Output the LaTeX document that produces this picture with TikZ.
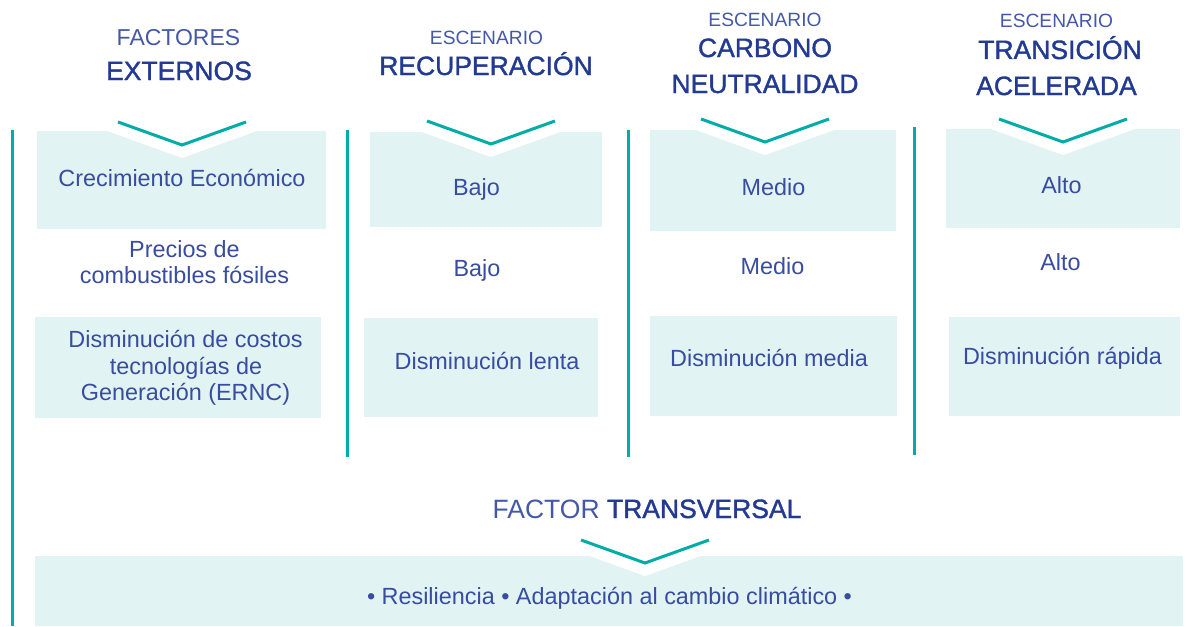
\documentclass[tikz,border=0pt]{standalone}
\usepackage{fontspec}
\setmainfont{Liberation Sans}
\newfontfamily\medfont{Liberation Sans}[FakeBold=1.4]
\definecolor{tealline}{RGB}{0,172,167}
\definecolor{boxbg}{RGB}{225,244,243}
\definecolor{lightblue}{RGB}{68,88,170}
\definecolor{darkblue}{RGB}{34,58,145}
\definecolor{bodyblue}{RGB}{56,76,160}
\begin{document}
\begin{tikzpicture}[
	x=1pt, y=-1pt,
	cell/.style={fill=boxbg},
	notch/.style={fill=white},
	chev/.style={draw=tealline, line width=3pt},
	sep/.style={draw=tealline, line width=3pt},
	body/.style={anchor=base, inner sep=0pt, text=bodyblue,
		font=\fontsize{23.4}{27}\selectfont},
	thin/.style={anchor=base, inner sep=0pt, text=lightblue,
		font=\fontsize{23}{27}\selectfont},
	scen/.style={anchor=base, inner sep=0pt, text=lightblue,
		font=\fontsize{19.2}{22}\selectfont},
	thick/.style={anchor=base, inner sep=0pt, text=darkblue,
		font=\medfont\fontsize{26.5}{30}\selectfont}
]
	\useasboundingbox (0, 0) rectangle (1201, 626);
	% Boxes
	\fill[cell] (37, 131) rectangle (326, 229);
	\fill[cell] (35, 317) rectangle (321, 418);
	\fill[cell] (370, 132) rectangle (602, 227);
	\fill[cell] (364, 318) rectangle (598, 417);
	\fill[cell] (650, 130) rectangle (896, 231);
	\fill[cell] (650, 316) rectangle (897, 416);
	\fill[cell] (946, 129) rectangle (1180, 228);
	\fill[cell] (949, 317) rectangle (1180, 416);
	\fill[cell] (35, 556) rectangle (1183, 626);
	% Chevrons
	\foreach \cx/\ty in {182/145, 491/144, 765/142, 1063/142, 645/563} {
		\fill[notch] (\cx-119, \ty-30) -- (\cx, \ty+13) -- (\cx+119, \ty-30) -- cycle;
		\draw[chev] (\cx-64, \ty-23) -- (\cx, \ty) -- (\cx+64, \ty-23);
	}
	% Separators
	\draw[sep] (12, 130) -- (12, 626);
	\draw[sep] (347, 130) -- (347, 457);
	\draw[sep] (628, 130) -- (628, 457);
	\draw[sep] (914, 127) -- (914, 455);
	% Headings
	\node[thin] (factores) at (178.5, 46) {FACTORES};
	\node[thick] (externos) at (179, 80) {EXTERNOS};
	\node[scen] (esc1) at (486.5, 44.5) {ESCENARIO};
	\node[thick] (recup) at (486, 75) {RECUPERACIÓN};
	\node[scen] (esc2) at (765, 27) {ESCENARIO};
	\node[thick] (carbono) at (765, 57) {CARBONO};
	\node[thick] (neutral) at (765, 93) {NEUTRALIDAD};
	\node[scen] (esc3) at (1056.5, 28) {ESCENARIO};
	\node[thick] (transicion) at (1060, 59) {TRANSICIÓN};
	\node[thick] (acelerada) at (1056.5, 95) {ACELERADA};
	% Factors
	\node[body] (crec) at (182, 186) {Crecimiento Económico};
	\node[body] (precA) at (184.5, 257) {Precios de};
	\node[body] (precB) at (184.5, 283) {combustibles fósiles};
	\node[body] (costA) at (185.5, 347) {Disminución de costos};
	\node[body] (costB) at (186, 374) {tecnologías de};
	\node[body] (costC) at (185.5, 400) {Generación (ERNC)};
	% Recuperacion
	\node[body] (recCrec) at (476.5, 195) {Bajo};
	\node[body] (recPrec) at (477, 276) {Bajo};
	\node[body] (recCost) at (487, 369) {Disminución lenta};
	% Carbono neutralidad
	\node[body] (carCrec) at (773.5, 195) {Medio};
	\node[body] (carPrec) at (772.5, 274) {Medio};
	\node[body] (carCost) at (769, 366) {Disminución media};
	% Transicion acelerada
	\node[body] (traCrec) at (1061.5, 193) {Alto};
	\node[body] (traPrec) at (1060.5, 270) {Alto};
	\node[body] (traCost) at (1062.5, 364) {Disminución rápida};
	% Transversal
	\node[anchor=base, inner sep=0pt, font=\fontsize{26.5}{30}\selectfont] (transv) at (647, 518)
		{\textcolor{lightblue}{FACTOR} \textcolor{darkblue}{\medfont TRANSVERSAL}};
	\node[body] (resil) at (609.5, 604) {• Resiliencia • Adaptación al cambio climático •};
\end{tikzpicture}
\end{document}
